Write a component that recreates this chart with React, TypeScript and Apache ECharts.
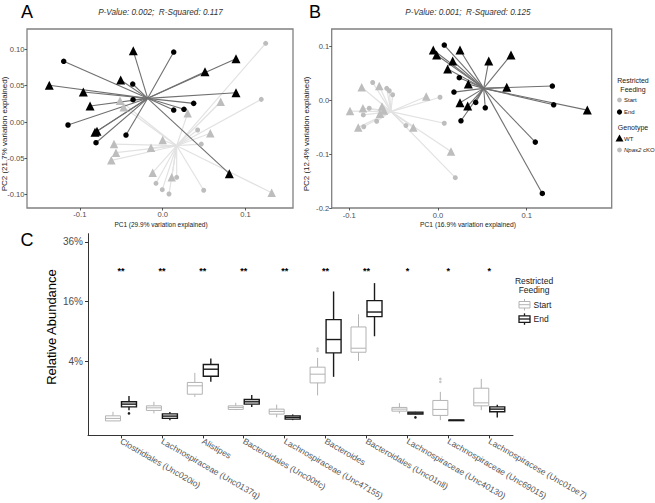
import React, { useEffect, useRef } from "react";
import * as echarts from "echarts";

const FONT = "Liberation Sans, Arial, sans-serif";

// ---------- Panel A: PCoA [PC1, PC2] ----------
const aEndWT = [
  [-0.0355, 0.098], [-0.1369, 0.0505], [-0.0958, 0.0413], [-0.0507, 0.0578], [-0.0877, 0.022],
  [-0.0817, -0.0142], [-0.0793, -0.0128], [0.0511, 0.0692], [0.0885, 0.0871], [0.0885, 0.0403], [0.0804, -0.0711],
];
const aEndKO = [
  [-0.1195, 0.0835], [0.0133, 0.0963], [-0.0362, 0.0523], [-0.0358, 0.0307], [-0.1143, -0.0041],
  [-0.0443, -0.0179], [-0.0805, -0.0285], [0.0133, 0.0165], [0.0257, 0.0175], [0.0374, 0.0257],
];
const aStartWT = [
  [0.07, 0.0279], [0.0575, -0.0155], [0.0302, 0.012], [0.0, -0.0248], [-0.0141, -0.0354],
  [-0.0588, -0.0303], [-0.0564, -0.0422], [-0.062, -0.0527], [-0.0121, -0.0697], [0.0109, -0.0761],
  [0.1316, -0.0973], [-0.0471, 0.0202], [-0.0515, 0.0293],
];
const aStartKO = [
  [0.1243, 0.1083], [0.119, 0.0312], [0.0422, -0.011], [0.0466, -0.0303], [-0.0081, -0.0843],
  [-0.0005, -0.0931], [0.0076, -0.099], [0.0169, -0.0761], [0.0495, -0.0939],
];
const aEndCentroid = [-0.0181, 0.0326];
const aStartCentroid = [0.0169, -0.0326];

// ---------- Panel B: PCoA [PC1, PC2] ----------
const bEndWT = [
  [-0.0053, 0.0928], [-0.0015, 0.0835], [0.0248, 0.0928], [0.0166, 0.0724], [0.0109, 0.0575],
  [0.0572, 0.0724], [0.0823, 0.0835], [0.0342, 0.0297], [0.0775, 0.0236], [0.0248, -0.005],
  [0.0335, -0.0111], [0.1683, -0.0186],
];
const bEndKO = [
  [0.0071, 0.102], [0.024, 0.0414], [0.018, 0.0148], [0.0425, -0.0043], [0.0533, -0.0143],
  [0.0259, -0.0384], [0.1289, 0.026], [0.1304, -0.0087], [0.1097, -0.0779], [0.1176, -0.1731],
];
const bStartWT = [
  [-0.086, 0.0236], [-0.0662, 0.026], [-0.0992, -0.0204], [-0.0846, -0.0152], [-0.0631, -0.0121],
  [-0.0609, -0.0191], [-0.0654, -0.0252], [-0.0132, 0.0065], [-0.0899, -0.0506], [-0.0278, -0.051],
  [0.0147, -0.0955],
];
const bStartKO = [
  [-0.0736, 0.0325], [-0.0578, 0.0217], [-0.0549, 0.0173], [-0.0511, 0.0098], [-0.0775, -0.0152],
  [-0.0842, -0.0275], [-0.0691, -0.0393], [-0.0837, -0.0495], [-0.0361, -0.0473], [0.0023, 0.0052],
  [0.0071, -0.043], [0.0195, -0.1438],
];
const bEndCentroid = [0.0515, 0.0217];
const bStartCentroid = [-0.053, -0.0213];

// ---------- Panel C: relative abundance (%) ----------
const taxa = [
  "Clostridiales (Unc020io)", "Lachnospiraceae (Unc0137q)", "Alistipes", "Bacteroidales (Unc00tfc)",
  "Lachnospiraceae (Unc47155)", "Bacteroides", "Bacteroidales (Unc01nll)", "Lachnospiraceae (Unc40130)",
  "Lachnospiraceae (Unc69015)", "Lachnospiracese (Unc01oe7)",
];
// [lower whisker, Q1, median, Q3, upper whisker]
const startStats = [
  [0.0, 0.0, 0.007, 0.029, 0.093],
  [0.063, 0.123, 0.192, 0.255, 0.41],
  [0.65, 0.8, 1.38, 1.66, 2.59],
  [0.13, 0.148, 0.204, 0.255, 0.37],
  [0.014, 0.052, 0.101, 0.156, 0.3],
  [0.73, 1.62, 2.45, 3.24, 4.45],
  [4.04, 5.29, 5.93, 9.9, 12.76],
  [0.063, 0.107, 0.156, 0.204, 0.354],
  [0.0007, 0.034, 0.148, 0.47, 0.947],
  [0.13, 0.255, 0.366, 1.2, 1.98],
];
const endStats = [
  [0.13, 0.22, 0.316, 0.41, 0.7],
  [0.0007, 0.007, 0.026, 0.056, 0.087],
  [1.71, 2.24, 3.0, 3.57, 4.37],
  [0.22, 0.316, 0.41, 0.517, 0.76],
  [0.0007, 0.0036, 0.014, 0.029, 0.047],
  [2.18, 5.19, 7.43, 11.5, 18.8],
  [8.04, 12.2, 13.3, 16.24, 21.3],
  [0.047, 0.052, 0.068, 0.087, 0.093],
  [0.0007, 0.0007, 0.0007, 0.0007, 0.0007],
  [0.014, 0.093, 0.156, 0.22, 0.29],
];
const startOutliers = [[5, 5.88], [5, 5.5], [8, 1.98], [8, 1.71]];
const endOutliers = [[0, 0.063], [7, 0.014]];
const significance = ["**", "**", "**", "**", "**", "**", "**", "*", "*", "*"];
const starLevel = 26;
const cTicks = [4, 16, 36];

const GRAY_PT = "#bdbdbd";
const GRAY_LINE = "#e2e2e2";
const DARK_LINE = "#707070";
const TICK_COLOR = "#4d4d4d";

function segSeries(pts: number[][], c: number[], idx: number, color: string, lw: number) {
  return {
    type: "custom",
    xAxisIndex: idx,
    yAxisIndex: idx,
    silent: true,
    data: pts.map((p) => [p[0], p[1], c[0], c[1]]),
    encode: { x: [0, 2], y: [1, 3] },
    renderItem: (_p: any, api: any) => {
      const a = api.coord([api.value(0), api.value(1)]);
      const b = api.coord([api.value(2), api.value(3)]);
      return {
        type: "line",
        shape: { x1: a[0], y1: a[1], x2: b[0], y2: b[1] },
        style: { stroke: color, lineWidth: lw },
      };
    },
  };
}

function ptSeries(pts: number[][], idx: number, symbol: string, size: number, color: string) {
  return {
    type: "scatter",
    xAxisIndex: idx,
    yAxisIndex: idx,
    data: pts,
    symbol,
    symbolSize: size,
    itemStyle: { color, opacity: 1 },
    silent: true,
  };
}

function boxSeries(stats: number[][], dodge: number, stroke: string, lw: number) {
  return {
    type: "custom",
    xAxisIndex: 2,
    yAxisIndex: 2,
    silent: true,
    data: stats.map((s, i) => [i, ...s.map((v) => Math.sqrt(v))]),
    encode: { x: 0, y: [1, 2, 3, 4, 5] },
    renderItem: (_p: any, api: any) => {
      const i = api.value(0);
      const yy = (k: number) => api.coord([i, api.value(k)])[1];
      const cx = api.coord([i, 0])[0] + dodge;
      const half = 7.5;
      const yLo = yy(1), yQ1 = yy(2), yMed = yy(3), yQ3 = yy(4), yHi = yy(5);
      const st = { stroke, lineWidth: lw };
      return {
        type: "group",
        children: [
          { type: "line", shape: { x1: cx, y1: yHi, x2: cx, y2: yQ3 }, style: st },
          { type: "line", shape: { x1: cx, y1: yQ1, x2: cx, y2: yLo }, style: st },
          {
            type: "rect",
            shape: { x: cx - half, y: yQ3, width: half * 2, height: Math.max(yQ1 - yQ3, 0.5) },
            style: { fill: "#fff", stroke, lineWidth: lw },
          },
          { type: "line", shape: { x1: cx - half, y1: yMed, x2: cx + half, y2: yMed }, style: st },
        ],
      };
    },
  };
}

function outlierSeries(pts: number[][], dodge: number, color: string) {
  return {
    type: "custom",
    xAxisIndex: 2,
    yAxisIndex: 2,
    silent: true,
    data: pts.map((p) => [p[0], Math.sqrt(p[1])]),
    encode: { x: 0, y: 1 },
    renderItem: (_p: any, api: any) => {
      const c = api.coord([api.value(0), api.value(1)]);
      return { type: "circle", shape: { cx: c[0] + dodge, cy: c[1], r: 1.3 }, style: { fill: color } };
    },
  };
}

const pcaAxis = (grid: number, min: number, max: number, ticks: number[], dec: number, margin: number) => ({
  type: "value",
  gridIndex: grid,
  min,
  max,
  axisLine: { show: false, onZero: false },
  splitLine: { show: false },
  axisTick: { show: true, length: 2.5, customValues: ticks, lineStyle: { color: "#333", width: 0.8 } },
  axisLabel: {
    customValues: ticks,
    formatter: (v: number) => v.toFixed(dec),
    color: TICK_COLOR,
    fontSize: 7.6,
    fontFamily: FONT,
    margin,
  },
});

function txt(x: number, y: number, text: string, opts: any = {}) {
  const { rotation, ...style } = opts;
  return {
    type: "text",
    x,
    y,
    rotation: rotation || 0,
    style: {
      text,
      fontFamily: FONT,
      fontSize: 8,
      fill: "#000",
      align: "center",
      verticalAlign: "middle",
      ...style,
    },
  };
}

export default function App() {
  const ref = useRef<HTMLDivElement>(null);
  useEffect(() => {
    if (!ref.current) return;
    const chart = echarts.init(ref.current, null, { renderer: "svg" });
    const gridStyle = { show: true, backgroundColor: "#fff", borderColor: "#808080", borderWidth: 1.3 };
    const option: any = {
      animation: false,
      backgroundColor: "#fff",
      grid: [
        { left: 27, top: 29, width: 266, height: 179, ...gridStyle },
        { left: 331.7, top: 29, width: 280, height: 179, ...gridStyle },
        { left: 88, top: 233.7, width: 425, height: 201.7, show: false },
      ],
      xAxis: [
        pcaAxis(0, -0.1638, 0.1573, [-0.1, 0, 0.1], 1, 2.5),
        pcaAxis(1, -0.1198, 0.1958, [-0.1, 0, 0.1], 1, 3),
        {
          type: "value",
          gridIndex: 2,
          min: -0.806,
          max: 9.58,
          axisLine: { show: true, onZero: false, lineStyle: { color: "#333", width: 1 } },
          splitLine: { show: false },
          axisTick: { show: true, length: 3, customValues: taxa.map((_, i) => i), lineStyle: { color: "#333" } },
          axisLabel: {
            customValues: taxa.map((_, i) => i),
            formatter: (v: number) => taxa[Math.round(v)] || "",
            rotate: -30,
            color: "#555",
            fontSize: 8.6,
            fontFamily: FONT,
            margin: 5,
          },
        },
      ],
      yAxis: [
        pcaAxis(0, -0.1183, 0.128, [-0.1, -0.05, 0, 0.05, 0.1], 2, 2.5),
        pcaAxis(1, -0.2, 0.1317, [-0.2, -0.1, 0, 0.1], 1, 2.5),
        {
          type: "value",
          gridIndex: 2,
          min: -0.485,
          max: 6.27,
          axisLine: { show: true, onZero: false, lineStyle: { color: "#333", width: 1 } },
          splitLine: { show: false },
          axisTick: { show: true, length: 3, customValues: cTicks.map((t) => Math.sqrt(t)), lineStyle: { color: "#333" } },
          axisLabel: {
            customValues: cTicks.map((t) => Math.sqrt(t)),
            formatter: (v: number) => Math.round(v * v) + "%",
            color: TICK_COLOR,
            fontSize: 10,
            fontFamily: FONT,
            margin: 5,
          },
        },
      ],
      series: [
        segSeries(aStartWT.concat(aStartKO), aStartCentroid, 0, GRAY_LINE, 1.2),
        segSeries(aEndWT.concat(aEndKO), aEndCentroid, 0, DARK_LINE, 1.1),
        ptSeries(aStartWT, 0, "triangle", 8.5, GRAY_PT),
        ptSeries(aStartKO, 0, "circle", 5, GRAY_PT),
        ptSeries(aEndWT, 0, "triangle", 9, "#000"),
        ptSeries(aEndKO, 0, "circle", 5.5, "#000"),
        segSeries(bStartWT.concat(bStartKO), bStartCentroid, 1, GRAY_LINE, 1.2),
        segSeries(bEndWT.concat(bEndKO), bEndCentroid, 1, DARK_LINE, 1.1),
        ptSeries(bStartWT, 1, "triangle", 8.5, GRAY_PT),
        ptSeries(bStartKO, 1, "circle", 5, GRAY_PT),
        ptSeries(bEndWT, 1, "triangle", 9, "#000"),
        ptSeries(bEndKO, 1, "circle", 5.5, "#000"),
        boxSeries(startStats, -8, "#b3b3b3", 1),
        boxSeries(endStats, 8, "#1a1a1a", 1.4),
        outlierSeries(startOutliers, -8, "#c8c8c8"),
        outlierSeries(endOutliers, 8, "#1a1a1a"),
        {
          type: "custom",
          xAxisIndex: 2,
          yAxisIndex: 2,
          silent: true,
          data: significance.map((_, i) => [i, Math.sqrt(starLevel)]),
          encode: { x: 0, y: 1 },
          renderItem: (p: any, api: any) => {
            const c = api.coord([api.value(0), api.value(1)]);
            return {
              type: "text",
              x: c[0],
              y: c[1] + 2,
              style: {
                text: significance[p.dataIndex],
                fontSize: 9,
                fontWeight: "bold",
                fontFamily: FONT,
                fill: "#000",
                align: "center",
                verticalAlign: "middle",
              },
            };
          },
        },
      ],
      graphic: [
        txt(27, 12, "A", { fontSize: 18 }),
        txt(315, 12, "B", { fontSize: 18 }),
        txt(27, 240, "C", { fontSize: 18 }),
        txt(160.5, 12.5, "P-Value: 0.002;  R-Squared: 0.117", { fontSize: 8.2, fontStyle: "italic", fill: "#333" }),
        txt(468, 12.5, "P-Value: 0.001;  R-Squared: 0.125", { fontSize: 8.2, fontStyle: "italic", fill: "#333" }),
        txt(161, 224, "PC1 (29.9% variation explained)", { fontSize: 6.5, fill: "#222" }),
        txt(468, 224, "PC1 (16.9% variation explained)", { fontSize: 6.7, fill: "#222" }),
        txt(4.5, 134, "PC2 (21.7% variation explained)", { fontSize: 8, fill: "#222", rotation: Math.PI / 2 }),
        txt(306, 134, "PC2 (12.4% variation explained)", { fontSize: 8, fill: "#222", rotation: Math.PI / 2 }),
        txt(51.7, 327, "Relative Abundance", { fontSize: 13, rotation: Math.PI / 2 }),
        // Legend B
        txt(633, 80, "Restricted", { fontSize: 7, fill: "#222" }),
        txt(633, 89.3, "Feeding", { fontSize: 7, fill: "#222" }),
        { type: "circle", shape: { cx: 619.5, cy: 100, r: 2.4 }, style: { fill: GRAY_PT } },
        txt(624, 100.3, "Start", { fontSize: 6, align: "left", fill: "#222" }),
        { type: "circle", shape: { cx: 619.5, cy: 112, r: 2.6 }, style: { fill: "#000" } },
        txt(624, 112.3, "End", { fontSize: 6, align: "left", fill: "#222" }),
        txt(633, 127.3, "Genotype", { fontSize: 7, fill: "#222" }),
        { type: "polygon", shape: { points: [[619.5, 134.5], [623.5, 141.5], [615.5, 141.5]] }, style: { fill: "#000" } },
        txt(624, 138.5, "WT", { fontSize: 6, align: "left", fill: "#222" }),
        { type: "circle", shape: { cx: 619.5, cy: 150, r: 2.4 }, style: { fill: GRAY_PT } },
        {
          type: "text",
          x: 624,
          y: 150.3,
          style: {
            text: "{i|Npas2} cKO",
            fontFamily: FONT,
            fontSize: 6,
            fill: "#222",
            align: "left",
            verticalAlign: "middle",
            rich: { i: { fontStyle: "italic", fontSize: 6, fontFamily: FONT, fill: "#222" } },
          },
        },
        // Legend C
        txt(534, 281, "Restricted", { fontSize: 8.5, fill: "#222" }),
        txt(534, 290.3, "Feeding", { fontSize: 8.5, fill: "#222" }),
        { type: "line", shape: { x1: 524.5, y1: 299, x2: 524.5, y2: 310.5 }, style: { stroke: "#b3b3b3", lineWidth: 1 } },
        { type: "rect", shape: { x: 519, y: 301.5, width: 11, height: 6.5 }, style: { fill: "#fff", stroke: "#b3b3b3", lineWidth: 1 } },
        { type: "line", shape: { x1: 519, y1: 304.7, x2: 530, y2: 304.7 }, style: { stroke: "#b3b3b3", lineWidth: 1 } },
        txt(533.5, 305, "Start", { fontSize: 8.5, align: "left", fill: "#222" }),
        { type: "line", shape: { x1: 524.5, y1: 313.3, x2: 524.5, y2: 324.8 }, style: { stroke: "#1a1a1a", lineWidth: 1.3 } },
        { type: "rect", shape: { x: 519, y: 315.8, width: 11, height: 6.5 }, style: { fill: "#fff", stroke: "#1a1a1a", lineWidth: 1.3 } },
        { type: "line", shape: { x1: 519, y1: 319, x2: 530, y2: 319 }, style: { stroke: "#1a1a1a", lineWidth: 1.3 } },
        txt(533.5, 319.3, "End", { fontSize: 8.5, align: "left", fill: "#222" }),
      ],
    };
    chart.setOption(option);
    return () => chart.dispose();
  }, []);
  return (
    <div
      ref={ref}
      style={{ position: "absolute", left: 0, top: 0, width: 655, height: 503, background: "#fff" }}
    />
  );
}
